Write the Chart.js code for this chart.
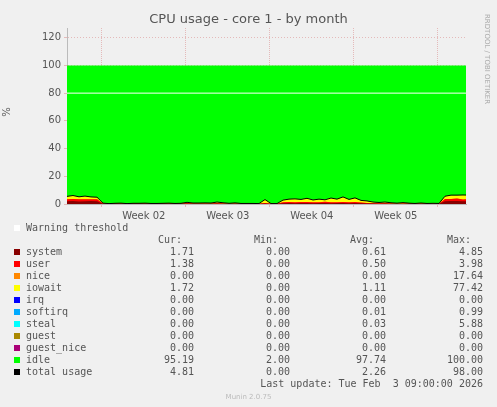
<!DOCTYPE html>
<html><head><meta charset="utf-8">
<script src="https://cdn.jsdelivr.net/npm/chart.js@4"></script>
<style>
body{margin:0;background:#f0f0f0;width:497px;height:407px;position:relative;overflow:hidden;font-family:"DejaVu Sans Mono",monospace;}
#wrap{position:absolute;left:0;top:0;width:497px;height:232px;}
.t{position:absolute;font-size:10px;color:#555;white-space:pre;line-height:12px;}
.r{text-align:right;}
.sq{position:absolute;width:6px;height:6px;}
</style></head><body>
<div id="wrap"><canvas id="c"></canvas></div>
<div class="t" style="left:0;top:11px;width:497px;text-align:center;font-family:'DejaVu Sans',sans-serif;font-size:13px;line-height:16px">CPU usage - core 1 - by month</div>
<div class="t" style="left:2px;top:106px;transform:rotate(-90deg);font-family:'DejaVu Sans',sans-serif">%</div>
<div class="t" style="left:437px;top:58px;transform:rotate(90deg);font-family:'DejaVu Sans',sans-serif;font-size:7px;color:#aaa;width:100px">RRDTOOL / TOBI OETIKER</div>
<div id="legend"></div>
<script>
// half-day samples over ~33 days
const system = [2,2.2,1.8,2,2.1,1.9,0.2,0.1,0.1,0.2,0.1,0.1,0.2,0.1,0.1,0.2,0.1,0.2,0.1,0.2,0.3,0.2,0.1,0.2,0.2,0.3,0.2,0.1,0.2,0.1,0.1,0.1,0.1,0.3,0.1,0.1,0.6,0.7,0.6,0.8,0.7,0.6,0.7,0.8,0.6,0.7,0.7,0.6,0.8,0.5,0.4,0.3,0.2,0.3,0.2,0.1,0.2,0.1,0.1,0.2,0.1,0.1,0.1,2,2.1,2.2,1.9,2];
const user = [1.5,1.4,1.6,1.5,1.4,1.5,0.2,0.1,0.2,0.1,0.1,0.2,0.1,0.2,0.1,0.1,0.2,0.1,0.2,0.1,0.3,0.2,0.2,0.1,0.2,0.3,0.2,0.1,0.2,0.1,0.1,0.1,0.1,0.4,0.1,0.1,0.7,0.8,0.6,0.7,0.8,0.7,0.6,0.8,0.7,0.6,0.8,0.7,0.6,0.5,0.4,0.3,0.3,0.2,0.2,0.1,0.2,0.2,0.1,0.1,0.1,0.1,0.1,1.6,1.5,1.7,1.4,1.5];
const nice = new Array(68).fill(0);
const iowait = [2,2.5,1.8,2.2,1.6,1.5,0.2,0.1,0.2,0.3,0.1,0.2,0.2,0.3,0.2,0.1,0.2,0.3,0.1,0.2,0.6,0.3,0.4,0.5,0.3,0.8,0.5,0.3,0.4,0.2,0.2,0.2,0.1,2.5,0.1,0.1,1.5,2,2.5,1.8,2.6,1.6,2.2,1.4,3,2.2,3.6,2,3,1.6,1.4,0.8,0.6,0.9,0.5,0.4,0.6,0.3,0.2,0.4,0.2,0.3,0.2,2,2.8,2.5,3.2,2.9];
const days = system.map((_, i) => i * 0.5);
const weekLabels = ['Week 02', 'Week 03', 'Week 04', 'Week 05'];
const weekStart = [2.9, 9.9, 16.9, 23.9, 30.9];
const threshold = 80;

const idle = days.map((_, i) => 100 - system[i] - user[i] - nice[i] - iowait[i]);
const total = days.map((_, i) => system[i] + user[i] + nice[i] + iowait[i]);
const pts = a => a.map((v, i) => ({x: days[i], y: v}));

const area = (label, data, color) => ({label, data: pts(data), backgroundColor: color, borderWidth: 0, fill: true, pointRadius: 0, stack: 's', tension: 0});

new Chart(document.getElementById('c'), {
  type: 'line',
  data: {datasets: [
    {label: 'total usage', data: pts(total), borderColor: '#000', borderWidth: 1, pointRadius: 0, fill: false, stack: 't', order: -2},
    {label: 'Warning threshold', data: pts(days.map(() => threshold)), borderColor: '#fff', borderWidth: 1, pointRadius: 0, fill: false, stack: 'w', order: -1},
    area('system', system, '#880000'),
    area('user', user, '#ff0000'),
    area('nice', nice, '#ff8800'),
    area('iowait', iowait, '#ffff00'),
    area('idle', idle, '#00ff00')
  ]},
  options: {
    responsive: true, maintainAspectRatio: false, animation: false,
    layout: {padding: {top: 28, right: 31, left: 0, bottom: 0}},
    plugins: {legend: {display: false}, tooltip: {enabled: false}},
    scales: {
      x: {type: 'linear', min: 0, max: 33.25,
        afterFit: s => { s.height = 28; },
        afterBuildTicks: s => {
          const t = [];
          weekStart.forEach((w, i) => { t.push({value: w}); if (i < 4) t.push({value: w + 3.5}); });
          s.ticks = t;
        },
        ticks: {autoSkip: false, maxRotation: 0, color: '#555', font: {family: 'DejaVu Sans', size: 10},
          callback: v => { const i = weekStart.findIndex(w => Math.abs(w + 3.5 - v) < 0.01); return i >= 0 ? weekLabels[i] : ''; }},
        grid: {color: c => weekStart.some(w => Math.abs(w - c.tick.value) < 0.01) ? 'rgba(220,150,150,0.6)' : 'rgba(0,0,0,0)', tickLength: 3},
        border: {color: '#bbb', dash: [1, 1]}
      },
      y: {stacked: true, min: 0, max: 127,
        afterFit: s => { s.width = 67; },
        afterBuildTicks: s => { s.ticks = [0,10,20,30,40,50,60,70,80,90,100,110,120].map(v => ({value: v})); },
        ticks: {color: '#555', font: {family: 'DejaVu Sans', size: 10}, padding: 3},
        grid: {color: 'rgba(220,150,150,0.6)', tickLength: 3},
        border: {dash: [1, 2], color: '#bbb'}
      }
    }
  }
});

const rows = [
  ['system', '#880000', '1.71', '0.00', '0.61', '4.85'],
  ['user', '#ff0000', '1.38', '0.00', '0.50', '3.98'],
  ['nice', '#ff8800', '0.00', '0.00', '0.00', '17.64'],
  ['iowait', '#ffff00', '1.72', '0.00', '1.11', '77.42'],
  ['irq', '#0000ff', '0.00', '0.00', '0.00', '0.00'],
  ['softirq', '#00aaff', '0.00', '0.00', '0.01', '0.99'],
  ['steal', '#00ffff', '0.00', '0.00', '0.03', '5.88'],
  ['guest', '#aa8800', '0.00', '0.00', '0.00', '0.00'],
  ['guest_nice', '#aa0077', '0.00', '0.00', '0.00', '0.00'],
  ['idle', '#00ff00', '95.19', '2.00', '97.74', '100.00'],
  ['total usage', '#000000', '4.81', '0.00', '2.26', '98.00']
];
const right = [194, 290, 386, 483];
let h = '<div class="sq" style="left:14px;top:225px;background:#fff"></div><div class="t" style="left:26px;top:222px">Warning threshold</div>';
['Cur:', 'Min:', 'Avg:', 'Max:'].forEach((s, i) => { h += `<div class="t r" style="left:${right[i] - 100}px;width:88px;top:234px">${s}</div>`; });
rows.forEach((r, k) => {
  const y = 246 + k * 12;
  h += `<div class="sq" style="left:14px;top:${y + 3}px;background:${r[1]}"></div><div class="t" style="left:26px;top:${y}px">${r[0]}</div>`;
  for (let i = 0; i < 4; i++) h += `<div class="t r" style="left:${right[i] - 100}px;width:100px;top:${y}px">${r[i + 2]}</div>`;
});
h += '<div class="t r" style="left:183px;width:300px;top:378px">Last update: Tue Feb  3 09:00:00 2026</div>';
h += '<div class="t" style="left:0;width:497px;text-align:center;top:391px;font-family:\'DejaVu Sans\',sans-serif;font-size:7px;color:#bbb">Munin 2.0.75</div>';
document.getElementById('legend').innerHTML = h;
</script>
</body></html>
